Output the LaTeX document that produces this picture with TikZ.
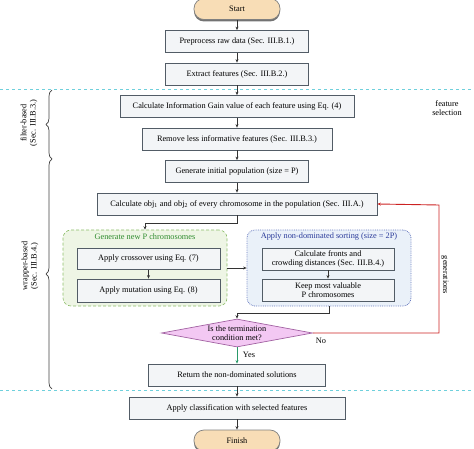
\documentclass[tikz,border=0pt]{standalone}
\usepackage{fontspec}
\setmainfont{Liberation Serif}
\usetikzlibrary{shapes.geometric,shadows,decorations.pathreplacing,arrows.meta}
\definecolor{boxfill}{HTML}{F3F5F7}
\definecolor{boxline}{HTML}{525C66}
\definecolor{termfill}{HTML}{F8DDB6}
\definecolor{grnfill}{HTML}{EEF5E5}
\definecolor{grnline}{HTML}{8DBE6A}
\definecolor{grntext}{HTML}{2E8B2E}
\definecolor{blufill}{HTML}{EAF1F9}
\definecolor{bluline}{HTML}{6A7CC0}
\definecolor{blutext}{HTML}{2A3A9A}
\definecolor{diafill}{HTML}{F3C8F3}
\definecolor{dialine}{HTML}{A262A2}
\definecolor{loopred}{HTML}{CC2222}
\definecolor{yesgrn}{HTML}{2A9A6A}
\definecolor{sepcyan}{HTML}{6FD0DC}
\tikzset{
  stepbox/.style={draw=boxline, fill=boxfill, line width=0.8pt, minimum height=22pt,
    inner sep=1pt, align=center, drop shadow={shadow xshift=0.8pt, shadow yshift=-1pt, fill=black!55, opacity=1}},
  term/.style={draw=black!50, fill=termfill, line width=0.7pt, rounded corners=10pt,
    minimum width=86pt, minimum height=21pt, drop shadow={shadow xshift=0pt, shadow yshift=-2pt, fill=black!55, opacity=1}},
  grpgrn/.style={draw=grnline, fill=grnfill, densely dashed, line width=0.6pt, rounded corners=8pt,
    minimum width=164pt, minimum height=76pt},
  grpblu/.style={draw=bluline, fill=blufill, densely dotted, line width=0.8pt, rounded corners=8pt,
    minimum width=164pt, minimum height=76pt},
  decision/.style={shape=diamond, draw=dialine, fill=diafill, line width=0.7pt, aspect=5.4,
    inner sep=-2pt, align=center},
  arr/.style={->, draw=black!80, line width=0.7pt},
  sepline/.style={draw=sepcyan, dashed, line width=0.7pt},
  brc/.style={draw=black!75, line width=0.7pt, decorate, decoration={brace, amplitude=6pt}},
}
\begin{document}
\begin{tikzpicture}[x=1pt, y=-1pt, node distance=32.5pt,
  font=\fontsize{8.3}{9.4}\selectfont, >={Stealth[length=3.5pt, width=3pt]}]
	\useasboundingbox (0,0) rectangle (474,449);
	% main column
	\node (start) [term] at (237,9) {Start};
	\node (pre) [stepbox, minimum width=143pt, below of=start] {Preprocess raw data (Sec. III.B.1.)};
	\node (ext) [stepbox, minimum width=143pt, below of=pre] {Extract features (Sec. III.B.2.)};
	\node (ig) [stepbox, minimum width=234pt, below of=ext] {Calculate Information Gain value of each feature using Eq. (4)};
	\node (rm) [stepbox, minimum width=190pt, below of=ig] {Remove less informative features (Sec. III.B.3.)};
	\node (gen) [stepbox, minimum width=143pt, below of=rm] {Generate initial population (size = P)};
	\node (obj) [stepbox, minimum width=280pt, below of=gen] {Calculate obj\textsubscript{1} and obj\textsubscript{2} of every chromosome in the population (Sec. III.A.)};
	% groups
	\node (grn) [grpgrn] at (145,268) {};
	\node (grnt) [text=grntext] at (145,237) {Generate new P chromosomes};
	\node (cross) [stepbox, minimum width=143pt, minimum height=21pt] at (148.5,259) {Apply crossover using Eq. (7)};
	\node (mut) [stepbox, minimum width=143pt, minimum height=23pt] at (148.5,290.5) {Apply mutation using Eq. (8)};
	\node (blu) [grpblu] at (329,268) {};
	\node (blut) [text=blutext] at (329,237) {Apply non-dominated sorting (size = 2P)};
	\node (front) [stepbox, minimum width=132pt] at (328,259) {Calculate fronts and\\crowding distances (Sec. III.B.4.)};
	\node (keep) [stepbox, minimum width=132pt] at (328,290) {Keep most valuable\\P chromosomes};
	% decision and end
	\node (dia) [decision, minimum width=151pt, minimum height=28pt] at (237,333) {Is the termination\\condition met?};
	\node (ret) [stepbox, minimum width=177pt, below of=dia, node distance=42pt] {Return the non-dominated solutions};
	\node (cls) [stepbox, minimum width=216pt, below of=ret, node distance=33pt] {Apply classification with selected features};
	\node (fin) [term, below of=cls, node distance=32.5pt] {Finish};
	% side labels
	\node (fsel) [align=center] at (447,108) {feature\\selection};
	\node (flab) [rotate=90, align=center] at (29,123) {filter-based\\(Sec. III.B.3.)};
	\node (wlab) [rotate=90, align=center] at (30,266) {wrapper-based\\(Sec. III.B.4.)};
	\node (glab) [rotate=-90] at (445,275) {generations};
	\node (no) at (321,341) {No};
	\node (yes) at (249,355) {Yes};
	\coordinate (loop) at (439,205);
	% separators and braces
	\draw[sepline] (0,89) -- (474,89);
	\draw[sepline] (0,390) -- (474,390);
	\draw[brc] (52,159) -- (52,90);
	\draw[brc] (52,389) -- (52,159);
	% arrows
	\draw[arr] (start) -- (pre);
	\draw[arr] (pre) -- (ext);
	\draw[arr] (ext) -- (ig);
	\draw[arr] (ig) -- (rm);
	\draw[arr] (rm) -- (gen);
	\draw[arr] (gen) -- (obj);
	\draw[arr] (obj.south) -- ++(0,8) -| (grn.north);
	\draw[arr] (cross) -- (mut);
	\draw[arr] (grn.east) -- (blu.west);
	\draw[arr] (front) -- (keep);
	\draw[arr] (blu.south) -- ++(0,7) -| (dia.north);
	\draw[arr, draw=yesgrn] (dia.south) -- (ret.north);
	\draw[arr, draw=loopred, line width=0.9pt] (dia.east) -- (dia.east -| loop) -- (loop) -- (obj.east);
	\draw[arr] (ret) -- (cls);
	\draw[arr] (cls) -- (fin);
\end{tikzpicture}
\end{document}
